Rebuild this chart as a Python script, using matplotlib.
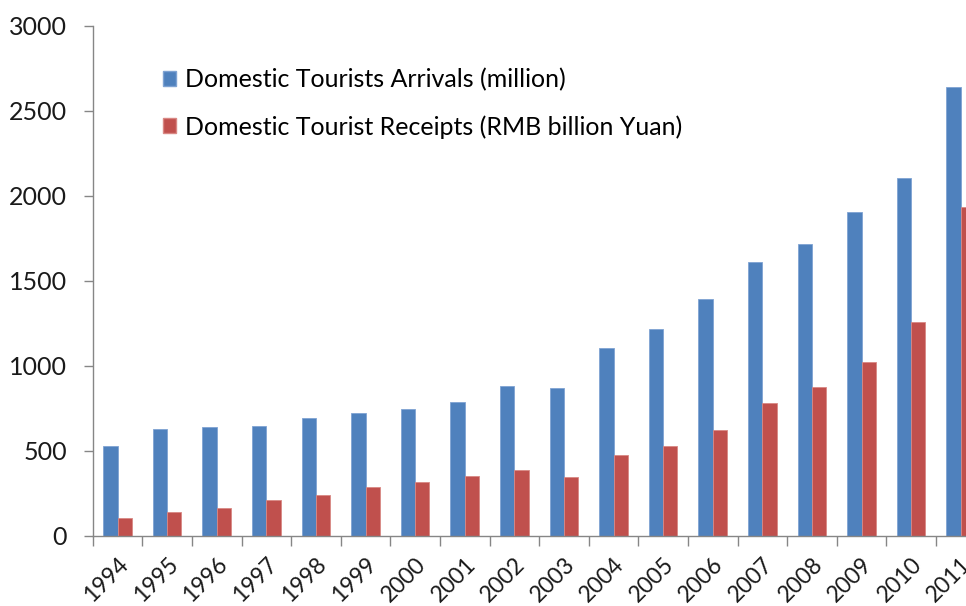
"""
Domestic tourism in China, 1994-2011: arrivals vs receipts (grouped bars).
Output: out.png
"""
import matplotlib
matplotlib.use("Agg")
import matplotlib.pyplot as plt
import numpy as np
from matplotlib.patches import Patch


YEARS = [str(y) for y in range(1994, 2012)]
ARRIVALS = [524, 629, 640, 644, 694, 719, 744, 784, 878, 870,
            1102, 1212, 1394, 1610, 1712, 1902, 2103, 2641]
RECEIPTS = [102.4, 137.6, 163.8, 211.3, 239.1, 283.2, 317.6, 352.2, 387.8, 344.2,
            471.1, 528.6, 623.0, 777.1, 874.9, 1018.4, 1258.0, 1930.5]
LABELS = ["Domestic Tourists Arrivals (million)",
          "Domestic Tourist Receipts (RMB billion Yuan)"]
Y_TICKS = [0, 500, 1000, 1500, 2000, 2500, 3000]

BLUE = "#4F81BD"
RED = "#C0504D"
AXIS = "#868686"
FS = 18

plt.rcParams["font.family"] = ["Lato", "DejaVu Sans"]

W, H = 966, 606
fig = plt.figure(figsize=(W / 100, H / 100), dpi=100)
fig.patch.set_facecolor("white")

# axes run past the right edge on purpose: the original is cropped there
left, right_px = 92.7, 92.7 + 18 * 49.6
bottom, top = 535.5, 25.5
ax = fig.add_axes([left / W, 1 - bottom / H, (right_px - left) / W, (bottom - top) / H])

x = np.arange(len(YEARS))
bw = 0.29
ax.bar(x - bw / 2, ARRIVALS, bw, color=BLUE, edgecolor="#7FA3D3", linewidth=0.6)
ax.bar(x + bw / 2, RECEIPTS, bw, color=RED, edgecolor="#D98884", linewidth=0.6)

ax.set_xlim(-0.5, len(YEARS) - 0.5)
ax.set_ylim(0, 3000)
ax.set_yticks(Y_TICKS)
ax.set_yticklabels([str(t) for t in Y_TICKS], fontsize=FS, color="#1a1a1a")

ax.set_xticks(x)
ax.set_xticklabels(YEARS, fontsize=16.5, rotation=45, ha="right",
                   rotation_mode="anchor", color="#1a1a1a")
ax.set_xticks(np.arange(len(YEARS) + 1) - 0.5, minor=True)
ax.tick_params(axis="x", which="major", length=0, pad=13)
ax.tick_params(axis="x", which="minor", length=7, width=1, color=AXIS, direction="out")
ax.tick_params(axis="y", length=6.5, width=1, color=AXIS, direction="out", pad=12)

for s in ("top", "right"):
    ax.spines[s].set_visible(False)
for s in ("left", "bottom"):
    ax.spines[s].set_color(AXIS)
    ax.spines[s].set_linewidth(1)

handles = [Patch(facecolor=BLUE, edgecolor="#7FA3D3"),
           Patch(facecolor=RED, edgecolor="#D98884")]
ax.legend(handles, LABELS, loc="upper left", bbox_to_anchor=(163 / W, 1 - 68 / H),
          bbox_transform=fig.transFigure, frameon=False, fontsize=FS,
          borderaxespad=0, borderpad=0, handlelength=0.52, handleheight=0.52,
          handletextpad=0.35, labelspacing=0.95)

fig.savefig("out.png", dpi=100, facecolor="white")
